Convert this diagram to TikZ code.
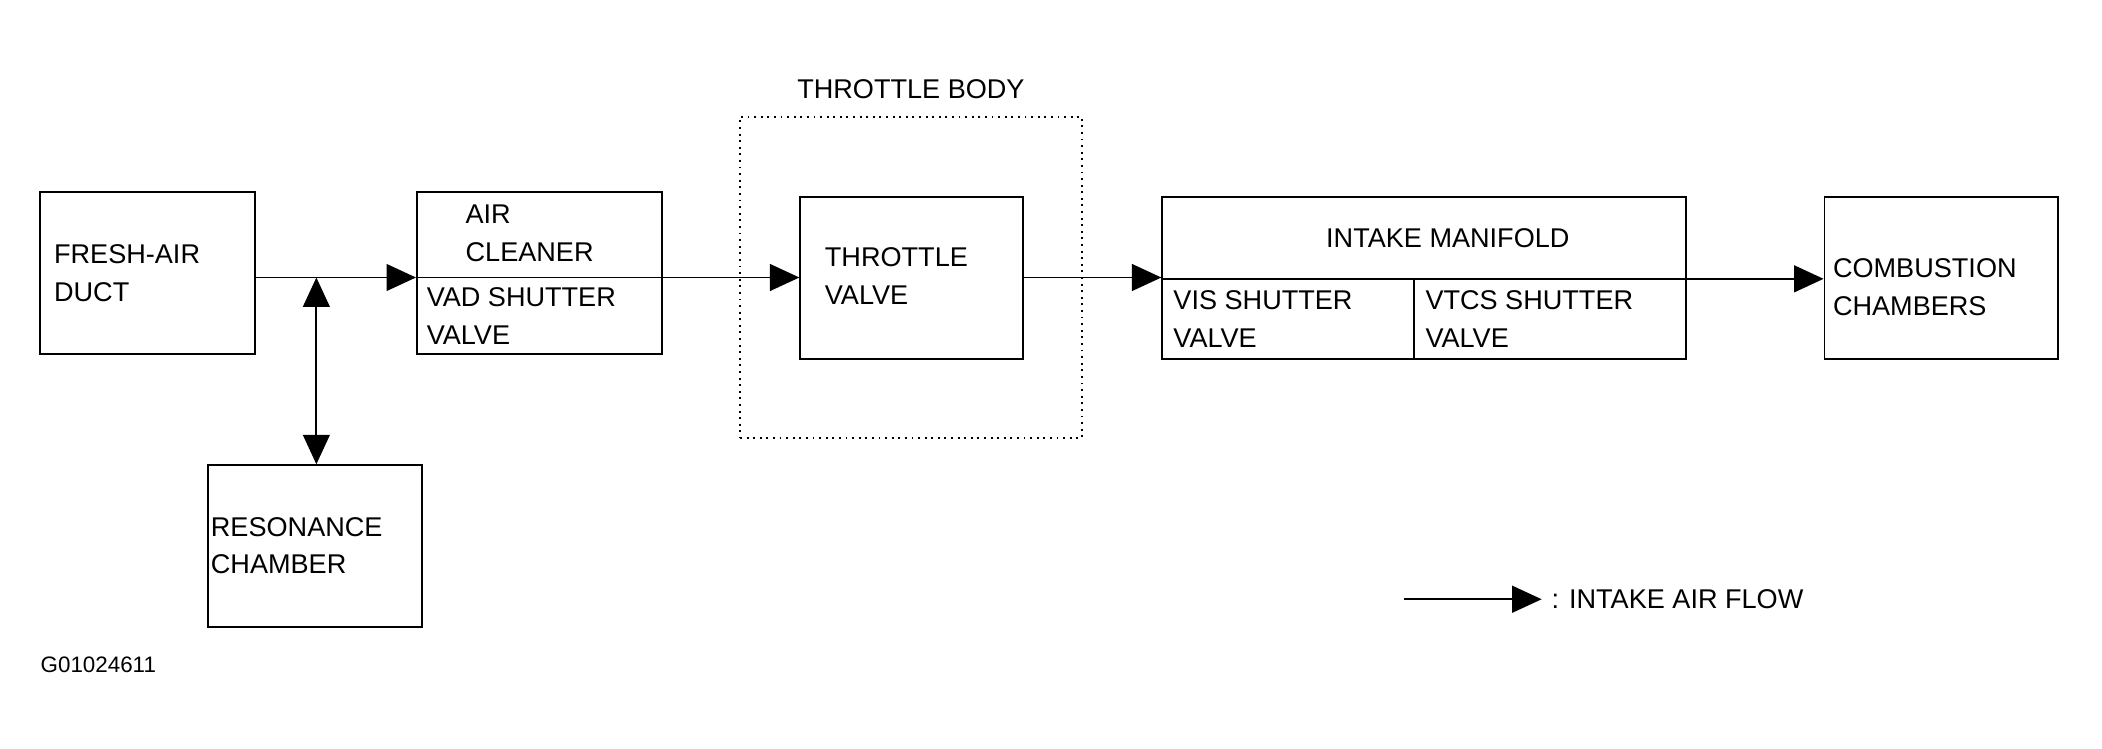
\documentclass[tikz,border=0pt]{standalone}
\usepackage{fontspec}
\setmainfont{Liberation Sans}
\usetikzlibrary{arrows.meta}
\tikzset{
  blk/.style={draw=black, thick, minimum height=2.42cm},
  txt/.style={anchor=west, align=left, inner sep=0pt, font=\fontsize{11.5}{16}\selectfont},
  flow/.style={thick, -{Triangle[length=0.44cm, width=0.4cm]}},
}
\begin{document}
\begin{tikzpicture}[x=0.02cm, y=-0.02cm]
  \useasboundingbox (0,0) rectangle (1568,558);
  % boxes
  \node[blk, minimum width=3.2cm] (duct) at (110,203.5) {};
  \node[blk, minimum width=3.2cm] (res) at (235,407.5) {};
  \node[blk, minimum width=3.66cm] (clean) at (402.5,203.5) {};
  \node[draw=black, thick, dotted, minimum width=5.1cm, minimum height=4.8cm] (tb) at (679.5,207) {};
  \node[blk, minimum width=3.32cm] (tv) at (680,207.5) {};
  \node[blk, minimum width=7.82cm] (im) at (1062.5,207.5) {};
  \node[blk, minimum width=3.48cm] (cc) at (1448,207.5) {};
  \draw[thick] (clean.west |- 0,207) -- (clean.east |- 0,207);
  \draw[thick] (im.west |- 0,208) -- (im.east |- 0,208);
  \draw[thick] (1055,208) -- (im.south -| 1055,0);
  % texts
  \node[txt] at (40,204) {FRESH-AIR\\DUCT};
  \node[txt] at (157,407) {RESONANCE\\CHAMBER};
  \node[txt] at (347,174) {AIR\\CLEANER};
  \node[txt] at (318,236) {VAD SHUTTER\\VALVE};
  \node[txt] at (615,206) {THROTTLE\\VALVE};
  \node[txt, anchor=center] at (1080,178) {INTAKE MANIFOLD};
  \node[txt] at (875,238) {VIS SHUTTER\\VALVE};
  \node[txt] at (1063,238) {VTCS SHUTTER\\VALVE};
  \node[txt] at (1367,214) {COMBUSTION\\CHAMBERS};
  \node[txt, anchor=south] at (tb.north) [yshift=0.25cm] {THROTTLE BODY};
  \node[txt, font=\fontsize{9.5}{12}\selectfont] at (30,496) {G01024611};
  % flow
  \draw[flow] (duct.east |- 0,207) -- (clean.west |- 0,207);
  \draw[thick, {Triangle[length=0.44cm, width=0.4cm]}-{Triangle[length=0.44cm, width=0.4cm]}] (236,207) -- (res.north -| 236,0);
  \draw[flow] (clean.east |- 0,207) -- (tv.west |- 0,207);
  \draw[flow] (tv.east |- 0,207) -- (im.west |- 0,207);
  \draw[flow] (im.east |- 0,208) -- (cc.west |- 0,208);
  % legend
  \coordinate (lgA) at (1047,447);
  \coordinate (lgB) at (1150,447);
  \draw[flow] (lgA) -- (lgB);
  \node[txt] at (1157,447) {: INTAKE AIR FLOW};
\end{tikzpicture}
\end{document}
